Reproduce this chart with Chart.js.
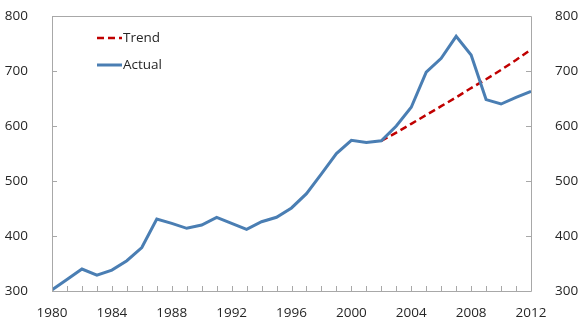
<!DOCTYPE html>
<html>
<head>
<meta charset="utf-8">
<script src="https://cdn.jsdelivr.net/npm/chart.js@4"></script>
<style>
  html, body { margin: 0; padding: 0; background: #fff; }
  #wrap { width: 581px; height: 323px; }
</style>
</head>
<body>
<div id="wrap"><canvas id="chart"></canvas></div>
<script>
// Data
const years = [1980, 1981, 1982, 1983, 1984, 1985, 1986, 1987, 1988, 1989, 1990,
  1991, 1992, 1993, 1994, 1995, 1996, 1997, 1998, 1999, 2000, 2001,
  2002, 2003, 2004, 2005, 2006, 2007, 2008, 2009, 2010, 2011, 2012];
const actual = [302, 321, 340, 329, 338, 355, 379, 431, 423, 414, 420,
  434, 423, 412, 426, 434, 451, 477, 513, 550, 574, 570,
  573, 600, 634, 698, 723, 763, 729, 648, 640, 652, 663];
const trendYears = [2002, 2003, 2004, 2005, 2006, 2007, 2008, 2009, 2010, 2011, 2012];
const trend = [573, 588, 604, 620, 636, 652, 669, 685, 702, 720, 739];
const yTicks = [300, 400, 500, 600, 700, 800];
const xLabels = [1980, 1984, 1988, 1992, 1996, 2000, 2004, 2008, 2012];

const frameColor = '#a8a8a8';
const textColor = '#262626';
const font = { family: 'Open Sans', size: 13.5 };

// frame, inward tick marks and inside legend
const framePlugin = {
  id: 'frame',
  afterDraw(chart) {
    const c = chart.ctx, a = chart.chartArea;
    const x = chart.scales.x, yl = chart.scales.y, yr = chart.scales.y2;
    c.save();
    c.strokeStyle = frameColor;
    c.lineWidth = 1;
    c.beginPath();
    c.rect(Math.round(a.left) + 0.5, Math.round(a.top) + 0.5,
      Math.round(a.right - a.left), Math.round(a.bottom - a.top));
    years.forEach(yr0 => {
      const px = Math.round(x.getPixelForValue(yr0)) + 0.5;
      c.moveTo(px, a.bottom);
      c.lineTo(px, a.bottom - 5);
    });
    yTicks.forEach(v => {
      const py = Math.round(yl.getPixelForValue(v)) + 0.5;
      c.moveTo(a.left, py); c.lineTo(a.left + 5, py);
      const py2 = Math.round(yr.getPixelForValue(v)) + 0.5;
      c.moveTo(a.right, py2); c.lineTo(a.right - 5, py2);
    });
    c.stroke();

    // legend
    const items = [chart.data.datasets[1], chart.data.datasets[0]];
    items.forEach((ds, i) => {
      const ly = 38 + i * 27;
      c.strokeStyle = ds.borderColor;
      c.lineWidth = ds.borderWidth;
      c.setLineDash(ds.borderDash || []);
      c.beginPath();
      c.moveTo(97, ly); c.lineTo(122, ly);
      c.stroke();
      c.setLineDash([]);
      c.fillStyle = textColor;
      c.font = font.size + 'px ' + font.family;
      c.textBaseline = 'middle';
      c.fillText(ds.label, 123, ly);
    });
    c.restore();
  }
};

function fitY(w) {
  return s => { s.width = w; s.paddingTop = 0; s.paddingBottom = 0; };
}

new Chart(document.getElementById('chart'), {
  type: 'line',
  data: {
    datasets: [{
      label: 'Actual',
      data: years.map((y, i) => ({ x: y, y: actual[i] })),
      borderColor: '#4a7eb3',
      borderWidth: 3,
      pointRadius: 0,
      tension: 0,
      order: 1
    }, {
      label: 'Trend',
      data: trendYears.map((y, i) => ({ x: y, y: trend[i] })),
      borderColor: '#c00000',
      borderWidth: 2.5,
      borderDash: [7, 4],
      pointRadius: 0,
      tension: 0,
      order: 2
    }]
  },
  options: {
    responsive: true,
    maintainAspectRatio: false,
    animation: false,
    layout: { padding: { top: 16, left: 0, right: 0, bottom: 0 } },
    plugins: { legend: { display: false }, tooltip: { enabled: false } },
    scales: {
      x: {
        type: 'linear', min: 1980, max: 2012,
        grid: { display: false }, border: { display: false },
        afterFit: s => { s.height = 32; s.paddingLeft = 0; s.paddingRight = 0; },
        afterBuildTicks: s => { s.ticks = xLabels.map(v => ({ value: v })); },
        ticks: { color: textColor, font: font, padding: 6, maxRotation: 0, autoSkip: false,
          callback: v => String(v) }
      },
      y: {
        position: 'left', min: 300, max: 800,
        grid: { display: false }, border: { display: false },
        afterFit: fitY(52),
        afterBuildTicks: s => { s.ticks = yTicks.map(v => ({ value: v })); },
        ticks: { color: textColor, font: font, padding: 16 }
      },
      y2: {
        position: 'right', min: 300, max: 800,
        grid: { display: false }, border: { display: false },
        afterFit: fitY(50),
        afterBuildTicks: s => { s.ticks = yTicks.map(v => ({ value: v })); },
        ticks: { color: textColor, font: font, padding: 16 }
      }
    }
  },
  plugins: [framePlugin]
});
</script>
</body>
</html>
